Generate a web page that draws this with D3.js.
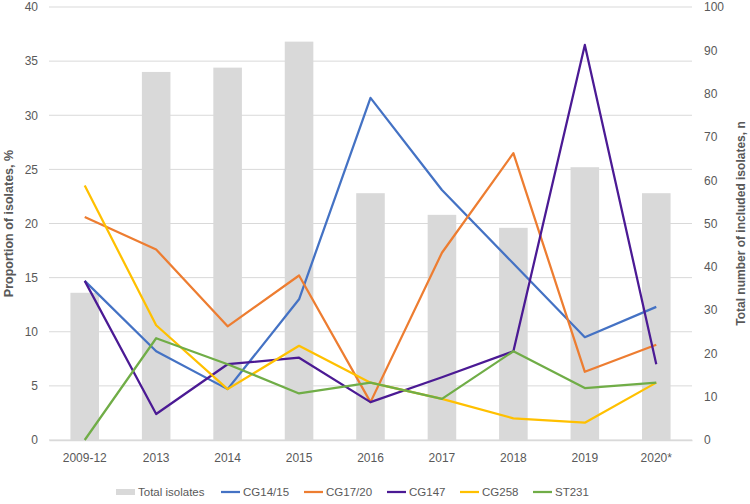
<!DOCTYPE html>
<html>
<head>
<meta charset="utf-8">
<script src="https://cdn.jsdelivr.net/npm/d3@7"></script>
<style>
  body { margin: 0; background: #fff; }
  text { font-family: "Liberation Sans", Arial, sans-serif; fill: #595959; }
</style>
</head>
<body>
<div class="chart"></div>
<script>
const dims = { width: 750, height: 504 }
const margin = { top: 7, right: 58, bottom: 64, left: 49 }

// data
const categories = ['2009-12', '2013', '2014', '2015', '2016', '2017', '2018', '2019', '2020*']
const totalIsolates = [34, 85, 86, 92, 57, 52, 49, 63, 57]
const cg1415 = [14.7, 8.2, 4.7, 13.0, 31.6, 23.1, 16.3, 9.5, 12.3]
const cg1720 = [20.6, 17.6, 10.5, 15.2, 3.5, 17.3, 26.5, 6.3, 8.8]
const cg147 = [14.7, 2.4, 7.0, 7.6, 3.5, 5.8, 8.2, 36.5, 7.0]
const cg258 = [23.5, 10.6, 4.7, 8.7, 5.3, 3.8, 2.0, 1.6, 5.3]
const st231 = [0, 9.4, 7.0, 4.3, 5.3, 3.8, 8.2, 4.8, 5.3]
const leftTicks = [0, 5, 10, 15, 20, 25, 30, 35, 40]
const rightTicks = [0, 10, 20, 30, 40, 50, 60, 70, 80, 90, 100]

const series = [
  { name: 'CG14/15', values: cg1415, color: '#4472C4' },
  { name: 'CG17/20', values: cg1720, color: '#ED7D31' },
  { name: 'CG147', values: cg147, color: '#4B1A94' },
  { name: 'CG258', values: cg258, color: '#FFC000' },
  { name: 'ST231', values: st231, color: '#70AD47' }
]

const w = dims.width - margin.left - margin.right
const h = dims.height - margin.top - margin.bottom

const svg = d3.select('.chart')
              .append('svg')
              .attr('width', dims.width)
              .attr('height', dims.height)

const graph = svg.append('g')
                 .attr('transform', `translate(${margin.left}, ${margin.top})`)

// scales
const x = d3.scaleBand().domain(categories).range([0, w]).paddingInner(0.6).paddingOuter(0.3)
const xc = d => x(d) + x.bandwidth() / 2
const yLeft = d3.scaleLinear().domain([0, 40]).range([h, 0])
const yRight = d3.scaleLinear().domain([0, 100]).range([h, 0])

// gridlines
graph.selectAll('.grid')
     .data(leftTicks)
     .enter()
     .append('line')
     .attr('x1', 0).attr('x2', w)
     .attr('y1', d => yLeft(d)).attr('y2', d => yLeft(d))
     .attr('stroke', '#d9d9d9')
     .attr('stroke-width', 1)

// left axis
const leftAxis = d3.axisLeft(yLeft).tickValues(leftTicks).tickSize(0).tickPadding(11)
const gl = graph.append('g').call(leftAxis)
gl.select('.domain').remove()
gl.selectAll('text').attr('font-size', 12).style('fill', '#595959')

// right axis
const rightAxis = d3.axisRight(yRight).tickValues(rightTicks).tickSize(0).tickPadding(12)
const gr = graph.append('g').attr('transform', `translate(${w}, 0)`).call(rightAxis)
gr.select('.domain').remove()
gr.selectAll('text').attr('font-size', 12).style('fill', '#595959')

// bars
graph.selectAll('.bar')
     .data(categories)
     .enter()
     .append('rect')
     .attr('x', d => x(d))
     .attr('y', (d, i) => yRight(totalIsolates[i]))
     .attr('width', x.bandwidth())
     .attr('height', (d, i) => h - yRight(totalIsolates[i]))
     .attr('fill', '#d9d9d9')

// bottom axis
const bottomAxis = d3.axisBottom(x).tickSize(0).tickPadding(13)
const gb = graph.append('g').attr('transform', `translate(0, ${h})`).call(bottomAxis)
gb.select('.domain').attr('stroke', '#d9d9d9').attr('stroke-width', 1.5)
gb.selectAll('text').attr('font-size', 12).style('fill', '#595959')

// lines
const line = d3.line().x((d, i) => xc(categories[i])).y(d => yLeft(d))
graph.selectAll('.line')
     .data(series)
     .enter()
     .append('path')
     .attr('fill', 'none')
     .attr('stroke', d => d.color)
     .attr('stroke-width', 2.25)
     .attr('stroke-linejoin', 'round')
     .attr('d', d => line(d.values))

// axis titles
svg.append('text')
   .attr('transform', `translate(13, ${margin.top + h / 2}) rotate(-90)`)
   .attr('text-anchor', 'middle')
   .attr('font-size', 12.5)
   .attr('font-weight', 'bold')
   .text('Proportion of isolates, %')

svg.append('text')
   .attr('transform', `translate(745, ${margin.top + h / 2}) rotate(-90)`)
   .attr('text-anchor', 'middle')
   .attr('font-size', 12)
   .attr('font-weight', 'bold')
   .text('Total number of included isolates, n')

// legend
const legendItems = [{ name: 'Total isolates', bar: true, color: '#d9d9d9' }].concat(series)
const legendX = [116, 221, 304, 387, 460, 533]
const legend = svg.append('g').attr('transform', 'translate(0, 492)')
const items = legend.selectAll('g')
                    .data(legendItems)
                    .enter()
                    .append('g')
                    .attr('transform', (d, i) => `translate(${legendX[i]}, 0)`)
items.filter(d => d.bar)
     .append('rect')
     .attr('x', 0).attr('y', -3).attr('width', 19).attr('height', 6)
     .attr('fill', d => d.color)
items.filter(d => !d.bar)
     .append('line')
     .attr('x1', 0).attr('x2', 19).attr('y1', 0).attr('y2', 0)
     .attr('stroke', d => d.color)
     .attr('stroke-width', 2.25)
items.append('text')
     .attr('x', 22).attr('y', 4)
     .attr('font-size', 11.5)
     .text(d => d.name)
</script>
</body>
</html>
